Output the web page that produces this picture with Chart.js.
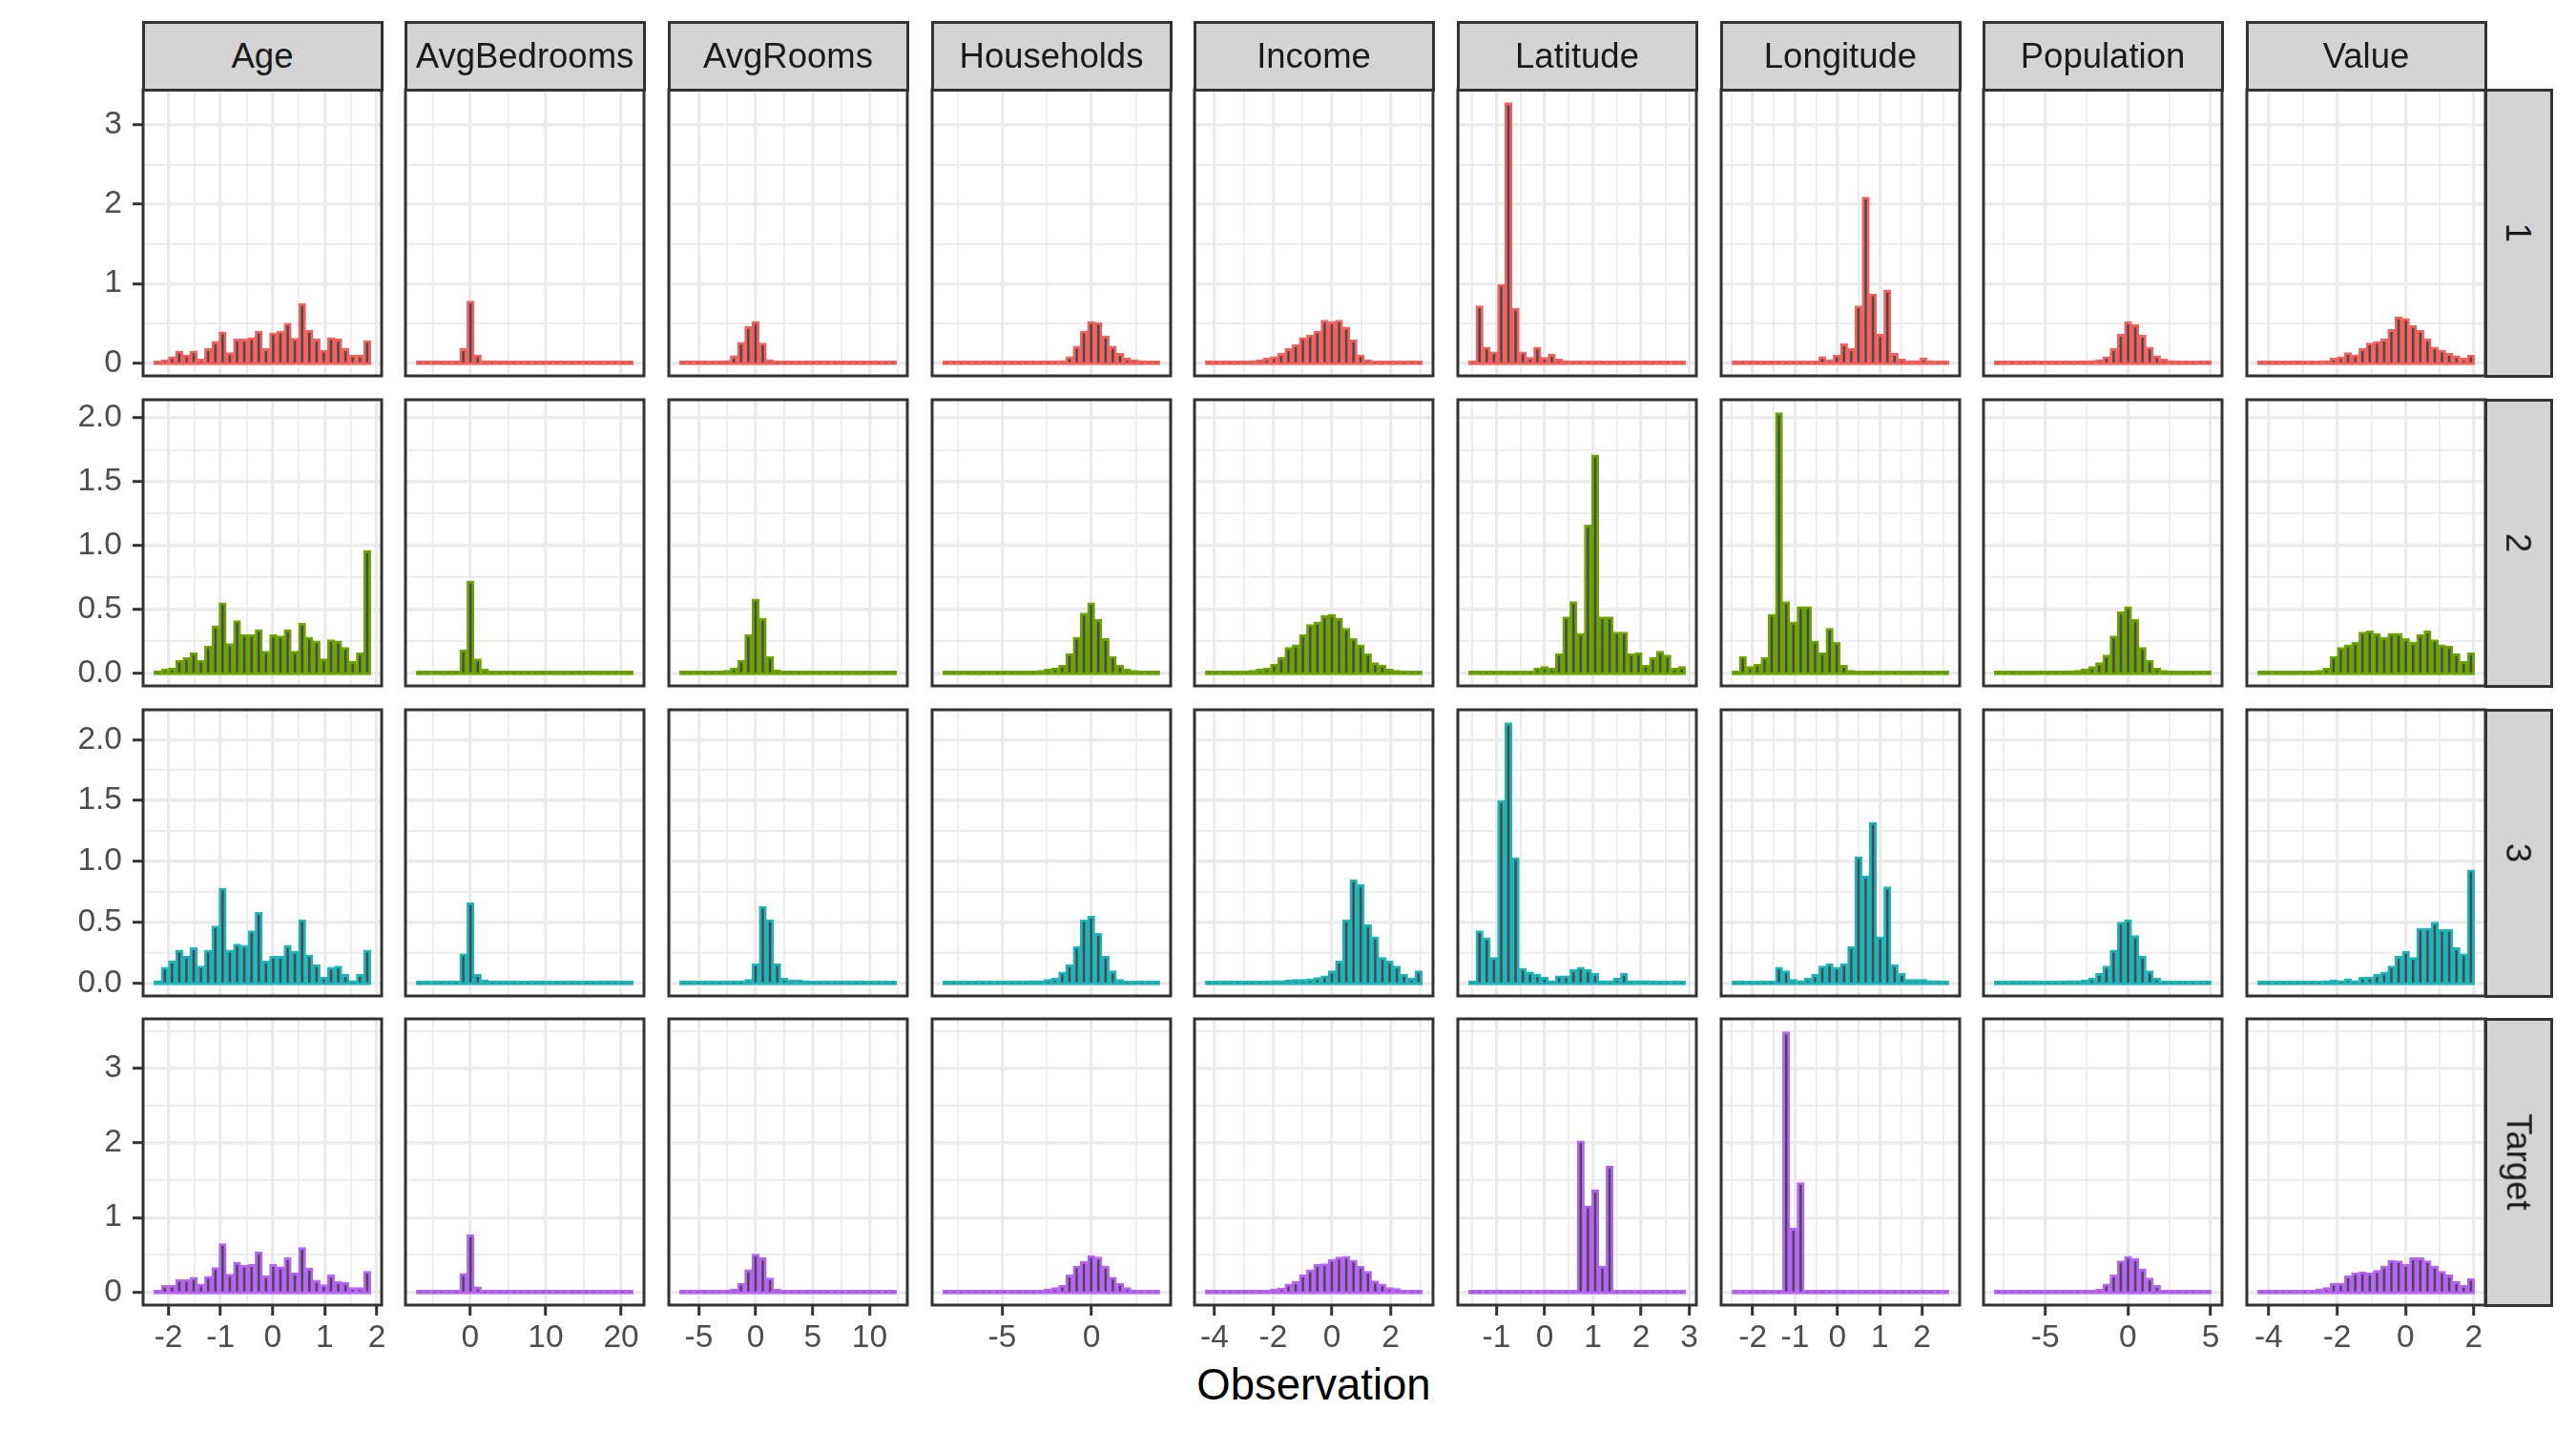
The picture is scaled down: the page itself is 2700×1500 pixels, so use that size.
<!DOCTYPE html>
<html>
<head>
<meta charset="utf-8">
<script src="https://cdn.jsdelivr.net/npm/chart.js@4.4.0/dist/chart.umd.min.js"></script>
<style>
html,body{margin:0;padding:0;background:#ffffff;}
body{width:2700px;height:1500px;position:relative;overflow:hidden;font-family:"Liberation Sans",Arial,Helvetica,sans-serif;}
canvas{position:absolute;}
.strip{position:absolute;box-sizing:border-box;background:#D4D4D4;border:3px solid #333333;display:flex;align-items:center;justify-content:center;color:#1A1A1A;font-size:36.5px;white-space:nowrap;}
.strip.r span{display:inline-block;transform:rotate(90deg);}
#xtitle{position:absolute;top:1429px;left:1377px;transform:translateX(-50%);font-size:45.5px;line-height:1;color:#000;white-space:nowrap;}
</style>
</head>
<body>
<div id="xtitle">Observation</div>
<script>
// ---------------- data ----------------
const variables = ['Age','AvgBedrooms','AvgRooms','Households','Income','Latitude','Longitude','Population','Value'];
const groups = ['1','2','3','Target'];
const groupColors = ['#F5605B','#6BA600','#1BB6B9','#B862F7'];
const NBINS = 30;
// range covered by the 30 histogram bins of each column
const binLo = [-2.278, -7.15, -6.69, -8.32, -4.31, -1.575, -2.49, -8.07, -4.32];
const binHi = [1.883, 21.59, 12.37, 3.83, 3.07, 2.92, 2.63, 5.03, 2.02];

const xTickValues = [[-2,-1,0,1,2],[0,10,20],[-5,0,5,10],[-5,0],[-4,-2,0,2],[-1,0,1,2,3],[-2,-1,0,1,2],[-5,0,5],[-4,-2,0,2]];
const xTickLabels = [['-2','-1','0','1','2'],['0','10','20'],['-5','0','5','10'],['-5','0'],['-4','-2','0','2'],['-1','0','1','2','3'],['-2','-1','0','1','2'],['-5','0','5'],['-4','-2','0','2']];
const yTickValues = [[0,1,2,3],[0,0.5,1,1.5,2],[0,0.5,1,1.5,2],[0,1,2,3]];
const yTickLabels = [['0','1','2','3'],['0.0','0.5','1.0','1.5','2.0'],['0.0','0.5','1.0','1.5','2.0'],['0','1','2','3']];

// group 1
const g1Age = [0.01,0.04,0.08,0.15,0.10,0.15,0.05,0.18,0.27,0.39,0.13,0.30,0.30,0.32,0.40,0.18,0.38,0.40,0.50,0.31,0.75,0.41,0.30,0.16,0.32,0.30,0.18,0.10,0.10,0.28];
const g1AvgBedrooms = [0,0,0,0,0,0.005,0.18,0.78,0.10,0.03,0.01,0.01,0.005,0.005,0,0,0,0,0,0,0,0,0,0,0,0,0,0,0,0];
const g1AvgRooms = [0,0,0,0,0,0.005,0.03,0.09,0.26,0.46,0.52,0.25,0.04,0.02,0.01,0.005,0.005,0,0,0,0,0,0,0,0,0,0,0,0,0];
const g1Households = [0.005,0.005,0.005,0.005,0.005,0.005,0.005,0.005,0.01,0.01,0.01,0.01,0.01,0.015,0.015,0.02,0.03,0.08,0.21,0.40,0.52,0.51,0.34,0.21,0.12,0.06,0.04,0.03,0.02,0.01];
const g1Income = [0.01,0.01,0.01,0.01,0.02,0.02,0.03,0.04,0.06,0.08,0.12,0.18,0.23,0.32,0.35,0.40,0.54,0.52,0.54,0.45,0.29,0.10,0.04,0.02,0.01,0.005,0.005,0.005,0.005,0.005];
const g1Latitude = [0,0.72,0.20,0.14,0.99,3.28,0.69,0.14,0.07,0.20,0.07,0.11,0.05,0.03,0.02,0.01,0.01,0.005,0.005,0.005,0,0,0,0,0,0,0,0,0,0];
const g1Longitude = [0,0,0,0,0,0.005,0.005,0.01,0.02,0.02,0.01,0.02,0.08,0.04,0.10,0.24,0.18,0.72,2.09,0.87,0.36,0.92,0.12,0.05,0.03,0.03,0.06,0.03,0.02,0.01];
const g1Population = [0.005,0.005,0.005,0.005,0.005,0.005,0.01,0.01,0.01,0.01,0.01,0.01,0.02,0.03,0.04,0.08,0.18,0.36,0.52,0.48,0.35,0.20,0.09,0.05,0.03,0.02,0.01,0.01,0.005,0.005];
const g1Value = [0,0,0,0.005,0.005,0.01,0.01,0.02,0.02,0.03,0.06,0.08,0.13,0.10,0.18,0.25,0.27,0.30,0.42,0.58,0.56,0.47,0.41,0.30,0.20,0.16,0.12,0.09,0.06,0.10];
// group 2
const g2Age = [0.01,0.03,0.04,0.10,0.12,0.16,0.10,0.21,0.37,0.55,0.23,0.41,0.30,0.30,0.34,0.17,0.30,0.29,0.34,0.17,0.39,0.28,0.25,0.11,0.26,0.25,0.20,0.09,0.16,0.96];
const g2AvgBedrooms = [0,0,0,0,0,0.005,0.18,0.72,0.11,0.03,0.015,0.01,0.01,0.005,0.005,0.005,0.005,0,0,0,0,0,0,0,0,0,0,0,0,0];
const g2AvgRooms = [0.005,0.005,0.005,0.005,0.005,0.01,0.02,0.04,0.10,0.30,0.58,0.43,0.13,0.025,0.015,0.01,0.005,0.005,0.005,0.005,0.005,0,0,0,0,0,0,0,0,0];
const g2Households = [0.005,0.005,0.005,0.005,0.01,0.01,0.01,0.01,0.01,0.01,0.01,0.01,0.015,0.02,0.03,0.04,0.06,0.15,0.28,0.47,0.55,0.42,0.27,0.13,0.06,0.03,0.02,0.01,0.01,0.005];
const g2Income = [0.01,0.01,0.01,0.01,0.015,0.015,0.02,0.03,0.04,0.07,0.12,0.20,0.22,0.30,0.38,0.40,0.45,0.46,0.43,0.35,0.27,0.22,0.15,0.08,0.06,0.03,0.02,0.01,0.01,0.01];
const g2Latitude = [0.005,0.005,0.005,0.005,0.005,0.01,0.01,0.01,0.01,0.04,0.05,0.04,0.15,0.44,0.56,0.31,1.16,1.71,0.44,0.44,0.32,0.32,0.15,0.16,0.06,0.12,0.17,0.14,0.04,0.05];
const g2Longitude = [0.01,0.13,0.05,0.07,0.12,0.46,2.04,0.56,0.40,0.52,0.52,0.25,0.16,0.35,0.24,0.06,0.02,0.01,0.01,0.005,0.005,0.005,0.005,0.005,0.005,0.005,0.005,0.005,0.005,0.005];
const g2Population = [0.005,0.005,0.005,0.005,0.005,0.005,0.01,0.01,0.01,0.01,0.015,0.02,0.03,0.05,0.08,0.14,0.29,0.48,0.52,0.42,0.20,0.10,0.04,0.02,0.01,0.005,0.005,0.005,0.005,0.005];
const g2Value = [0.005,0.005,0.005,0.005,0.01,0.01,0.01,0.015,0.02,0.04,0.13,0.20,0.22,0.24,0.32,0.33,0.31,0.28,0.31,0.31,0.27,0.24,0.30,0.33,0.26,0.22,0.21,0.15,0.09,0.16];
// group 3
const g3Age = [0.02,0.13,0.18,0.27,0.22,0.29,0.14,0.27,0.47,0.78,0.27,0.32,0.31,0.43,0.58,0.18,0.22,0.22,0.31,0.26,0.52,0.23,0.15,0.05,0.13,0.14,0.07,0.02,0.07,0.27];
const g3AvgBedrooms = [0,0,0,0,0,0.005,0.24,0.66,0.07,0.025,0.015,0.015,0.01,0.01,0.01,0.01,0.005,0.005,0.005,0.005,0.005,0.005,0.005,0,0,0,0,0,0,0];
const g3AvgRooms = [0.005,0.005,0.005,0.005,0.005,0.005,0.005,0.005,0.01,0.03,0.16,0.63,0.52,0.16,0.04,0.025,0.025,0.02,0.015,0.01,0.01,0.01,0.005,0.005,0.005,0.005,0.005,0.005,0.005,0.005];
const g3Households = [0.01,0.01,0.01,0.01,0.01,0.01,0.01,0.01,0.01,0.015,0.015,0.015,0.02,0.02,0.03,0.04,0.09,0.15,0.30,0.52,0.55,0.41,0.22,0.10,0.03,0.015,0.01,0.01,0.005,0.005];
const g3Income = [0.01,0.01,0.01,0.01,0.01,0.01,0.01,0.015,0.015,0.02,0.02,0.025,0.03,0.03,0.035,0.045,0.06,0.10,0.18,0.52,0.85,0.81,0.48,0.38,0.21,0.18,0.14,0.07,0.04,0.10];
const g3Latitude = [0,0.43,0.37,0.21,1.50,2.14,1.03,0.12,0.09,0.07,0.05,0.02,0.06,0.06,0.11,0.13,0.11,0.08,0.02,0.02,0.04,0.08,0.02,0.02,0.02,0.01,0.005,0.005,0.005,0.005];
const g3Longitude = [0.01,0.01,0.01,0.01,0.01,0.01,0.13,0.10,0.03,0.02,0.04,0.07,0.14,0.16,0.13,0.16,0.30,1.04,0.88,1.32,0.38,0.79,0.15,0.08,0.03,0.03,0.03,0.02,0.02,0.01];
const g3Population = [0.005,0.005,0.005,0.005,0.005,0.01,0.01,0.01,0.01,0.015,0.02,0.02,0.025,0.04,0.08,0.14,0.27,0.50,0.52,0.39,0.22,0.10,0.04,0.015,0.01,0.005,0.005,0.005,0.005,0.005];
const g3Value = [0.005,0.005,0.005,0.005,0.005,0.01,0.01,0.015,0.015,0.02,0.025,0.02,0.035,0.02,0.05,0.05,0.07,0.09,0.14,0.22,0.26,0.21,0.45,0.45,0.50,0.44,0.44,0.29,0.24,0.93];
// target
const gtAge = [0.02,0.09,0.09,0.17,0.17,0.20,0.11,0.21,0.33,0.65,0.24,0.40,0.36,0.37,0.54,0.22,0.37,0.34,0.46,0.26,0.60,0.32,0.16,0.10,0.23,0.14,0.13,0.06,0.06,0.28];
const gtAvgBedrooms = [0,0,0,0,0,0.005,0.25,0.77,0.07,0.025,0.015,0.01,0.01,0.01,0.005,0.005,0.005,0.005,0.005,0.005,0.005,0.005,0.005,0.005,0.005,0.005,0.005,0.005,0.005,0.005];
const gtAvgRooms = [0.005,0.005,0.005,0.005,0.005,0.01,0.02,0.04,0.12,0.30,0.51,0.46,0.19,0.04,0.02,0.015,0.01,0.005,0.005,0.005,0.005,0.005,0.005,0.005,0.005,0.005,0.005,0.005,0.005,0.005];
const gtHouseholds = [0.01,0.01,0.01,0.01,0.01,0.015,0.015,0.015,0.015,0.015,0.02,0.02,0.025,0.03,0.04,0.06,0.09,0.23,0.35,0.41,0.49,0.47,0.35,0.20,0.12,0.06,0.03,0.02,0.01,0.01];
const gtIncome = [0.01,0.01,0.01,0.01,0.02,0.02,0.03,0.03,0.03,0.04,0.055,0.11,0.14,0.23,0.30,0.37,0.38,0.44,0.47,0.48,0.43,0.35,0.28,0.15,0.11,0.06,0.05,0.03,0.02,0.02];
const gtLatitude = [0,0,0,0,0,0,0,0,0,0,0,0,0,0,0,2.03,1.16,1.37,0.35,1.69,0,0,0,0,0,0,0,0,0,0];
const gtLongitude = [0,0,0,0,0,0,0,3.49,0.86,1.47,0,0,0,0,0,0,0,0,0,0,0,0,0,0,0,0,0,0,0,0];
const gtPopulation = [0.005,0.005,0.005,0.005,0.005,0.005,0.01,0.01,0.01,0.01,0.015,0.02,0.02,0.03,0.04,0.11,0.23,0.42,0.48,0.45,0.31,0.19,0.09,0.03,0.02,0.01,0.005,0.005,0.005,0.005];
const gtValue = [0.005,0.005,0.005,0.01,0.01,0.015,0.02,0.02,0.04,0.06,0.12,0.12,0.22,0.26,0.27,0.26,0.29,0.35,0.43,0.42,0.37,0.46,0.46,0.42,0.35,0.28,0.23,0.14,0.09,0.18];

const densityTable = [
  [g1Age,g1AvgBedrooms,g1AvgRooms,g1Households,g1Income,g1Latitude,g1Longitude,g1Population,g1Value],
  [g2Age,g2AvgBedrooms,g2AvgRooms,g2Households,g2Income,g2Latitude,g2Longitude,g2Population,g2Value],
  [g3Age,g3AvgBedrooms,g3AvgRooms,g3Households,g3Income,g3Latitude,g3Longitude,g3Population,g3Value],
  [gtAge,gtAvgBedrooms,gtAvgRooms,gtHouseholds,gtIncome,gtLatitude,gtLongitude,gtPopulation,gtValue]
];

// ---------------- layout / style ----------------
const FONT = '"Liberation Sans", Arial, Helvetica, sans-serif';
const PANEL_W = 250, PANEL_H = 300;
const colLeft = c => Math.round(149.7 + 275.66 * c);
const rowTop = [94, 419, 744, 1068];
const M = 14;          // margin around each panel inside its canvas
const PAD_B = 130;     // bottom axis box height
const GRID = '#EBEBEB';
const FILL = '#4A4A50';

function minorTicks(major, lo, hi) {
  const step = major[1] - major[0];
  const out = [];
  for (let i = -1; i < major.length; i++) {
    const v = major[0] + (i + 0.5) * step;
    if (v > lo && v < hi) out.push(v);
  }
  return out;
}

const panelBorder = {
  id: 'panelBorder',
  afterDatasetsDraw(chart) {
    const {ctx, chartArea: a} = chart;
    ctx.save();
    ctx.strokeStyle = '#333333';
    ctx.lineWidth = 3;
    ctx.strokeRect(a.left, a.top, a.right - a.left, a.bottom - a.top);
    ctx.restore();
  }
};

Chart.defaults.font.family = FONT;

for (let r = 0; r < groups.length; r++) {
  const rowMax = Math.max(...densityTable[r].map(a => Math.max(...a)));
  const yLo = -0.05 * rowMax, yHi = 1.05 * rowMax;
  const yMaj = yTickValues[r];
  const yMin = minorTicks(yMaj, yLo, yHi);
  const yAll = yMaj.concat(yMin).filter(v => v >= yLo && v <= yHi);
  const baseVal = -2 * (yHi - yLo) / PANEL_H;

  for (let c = 0; c < variables.length; c++) {
    const L = colLeft(c), T = rowTop[r];
    const cl = c === 0 ? 0 : L - M;
    const ct = T - M;
    const cw = (L + PANEL_W + M) - cl;
    const ch = (T + PANEL_H + (r === 3 ? PAD_B : M)) - ct;
    const cv = document.createElement('canvas');
    cv.width = cw; cv.height = ch;
    cv.style.left = cl + 'px'; cv.style.top = ct + 'px';
    cv.style.width = cw + 'px'; cv.style.height = ch + 'px';
    document.body.appendChild(cv);

    const lo = binLo[c], hi = binHi[c];
    const bw = (hi - lo) / NBINS;
    const xLo = lo - 0.05 * (hi - lo), xHi = hi + 0.05 * (hi - lo);
    const xMaj = xTickValues[c];
    const xMin = minorTicks(xMaj, xLo, xHi);
    const xAll = xMaj.concat(xMin).filter(v => v >= xLo && v <= xHi);
    const vals = densityTable[r][c];
    const pts = vals.map((v, k) => ({x: lo + (k + 0.5) * bw, y: v}));
    const xIsMajor = v => xMaj.some(m => Math.abs(m - v) < 1e-9);
    const yIsMajor = v => yMaj.some(m => Math.abs(m - v) < 1e-9);

    new Chart(cv, {
      type: 'bar',
      data: {
        datasets: [{
          data: pts,
          backgroundColor: FILL,
          borderColor: groupColors[r],
          borderWidth: 2.85,
          borderSkipped: false,
          minBarLength: 4,
          base: baseVal,
          categoryPercentage: 1.0,
          barPercentage: 1.0,
          grouped: false
        }]
      },
      options: {
        responsive: false,
        animation: false,
        devicePixelRatio: 1,
        events: [],
        layout: {padding: {left: c === 0 ? 0 : M, right: M, top: M, bottom: r === 3 ? 0 : M}},
        plugins: {legend: {display: false}, tooltip: {enabled: false}},
        scales: {
          x: {
            type: 'linear',
            min: xLo, max: xHi,
            offset: false,
            afterBuildTicks: s => { s.ticks = xAll.map(v => ({value: v})); },
            afterFit: s => { s.height = r === 3 ? PAD_B : 0; s.paddingLeft = 0; s.paddingRight = 0; },
            border: {display: false},
            grid: {
              offset: false,
              color: GRID,
              lineWidth: ctx => (ctx.tick && xIsMajor(ctx.tick.value)) ? 3.4 : 1.7,
              drawTicks: r === 3,
              tickLength: 11,
              tickWidth: 3,
              tickColor: ctx => (ctx.tick && xIsMajor(ctx.tick.value)) ? '#333333' : 'rgba(0,0,0,0)'
            },
            ticks: {
              display: r === 3,
              autoSkip: false,
              maxRotation: 0,
              minRotation: 0,
              padding: 4,
              color: '#4D4D4D',
              font: {size: 33.5, family: FONT},
              callback: v => { const i = xMaj.findIndex(m => Math.abs(m - v) < 1e-9); return i >= 0 ? xTickLabels[c][i] : ''; }
            }
          },
          y: {
            type: 'linear',
            min: yLo, max: yHi,
            afterBuildTicks: s => { s.ticks = yAll.map(v => ({value: v})); },
            afterFit: s => { s.width = c === 0 ? L : 0; s.paddingTop = 0; s.paddingBottom = 0; },
            border: {display: false},
            grid: {
              color: GRID,
              lineWidth: ctx => (ctx.tick && yIsMajor(ctx.tick.value)) ? 3.4 : 1.7,
              drawTicks: c === 0,
              tickLength: 11,
              tickWidth: 3,
              tickColor: ctx => (ctx.tick && yIsMajor(ctx.tick.value)) ? '#333333' : 'rgba(0,0,0,0)'
            },
            ticks: {
              display: c === 0,
              autoSkip: false,
              padding: 11,
              color: '#4D4D4D',
              font: {size: 33.5, family: FONT},
              callback: v => { const i = yMaj.findIndex(m => Math.abs(m - v) < 1e-9); return i >= 0 ? yTickLabels[r][i] : ''; }
            }
          }
        }
      },
      plugins: [panelBorder]
    });
  }
}

// strips (text)
variables.forEach((name, c) => {
  const d = document.createElement('div');
  d.className = 'strip';
  d.style.left = (colLeft(c) - 1.5) + 'px';
  d.style.top = '22px';
  d.style.width = (PANEL_W + 3) + 'px';
  d.style.height = '74px';
  d.textContent = name;
  document.body.appendChild(d);
});
groups.forEach((name, r) => {
  const d = document.createElement('div');
  d.className = 'strip r';
  d.style.left = (colLeft(8) + PANEL_W - 1.5) + 'px';
  d.style.top = (rowTop[r] - 1.5) + 'px';
  d.style.width = '72px';
  d.style.height = (PANEL_H + 3) + 'px';
  const s = document.createElement('span');
  s.textContent = name;
  d.appendChild(s);
  document.body.appendChild(d);
});
</script>
</body>
</html>
